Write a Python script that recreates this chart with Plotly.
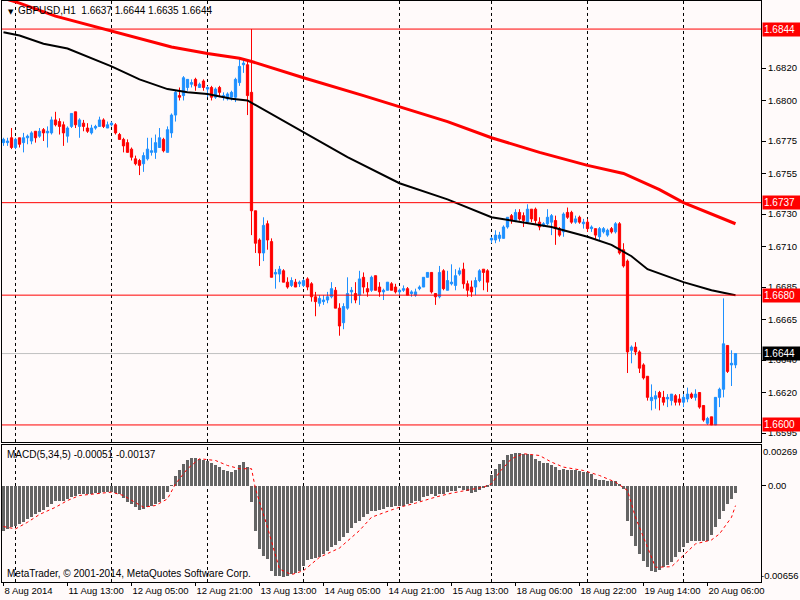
import pandas as pd
import plotly.graph_objects as go

# hourly bars on screen (MetaTrader skips the weekend)
bar_times = (list(pd.date_range('2014-08-08 21:00', '2014-08-08 23:00', freq='h'))
             + list(pd.date_range('2014-08-11 00:00', '2014-08-15 22:00', freq='h'))
             + list(pd.date_range('2014-08-18 00:00', '2014-08-20 13:00', freq='h')))

opens = [
    1.6774, 1.6774, 1.6777, 1.6771, 1.6777, 1.6774, 1.6777, 1.6775, 1.6781, 1.6778,
    1.6782, 1.6780, 1.6780, 1.6788, 1.6787, 1.6785, 1.6778, 1.6784, 1.6793, 1.6784,
    1.6786, 1.6783, 1.6780, 1.6783, 1.6784, 1.6788, 1.6783, 1.6785, 1.6785, 1.6779,
    1.6776, 1.6774, 1.6770, 1.6764, 1.6763, 1.6761, 1.6764, 1.6768, 1.6768, 1.6771,
    1.6776, 1.6768, 1.6780, 1.6791, 1.6803, 1.6803, 1.6808, 1.6810, 1.6813, 1.6808,
    1.6812, 1.6807, 1.6808, 1.6802, 1.6808, 1.6802, 1.6801, 1.6802, 1.6802, 1.6811,
    1.6822, 1.6822, 1.6805, 1.6732, 1.6714, 1.6706, 1.6724, 1.6713, 1.6693, 1.6693,
    1.6695, 1.6688, 1.6686, 1.6688, 1.6687, 1.6686, 1.6690, 1.6687, 1.6679, 1.6675,
    1.6676, 1.6677, 1.6679, 1.6683, 1.6672, 1.6663, 1.6672, 1.6682, 1.6681, 1.6680,
    1.6691, 1.6684, 1.6683, 1.6692, 1.6685, 1.6682, 1.6683, 1.6687, 1.6685, 1.6682,
    1.6683, 1.6684, 1.6681, 1.6680, 1.6684, 1.6685, 1.6691, 1.6694, 1.6681, 1.6679,
    1.6695, 1.6683, 1.6687, 1.6686, 1.6693, 1.6696, 1.6687, 1.6685, 1.6685, 1.6689,
    1.6696, 1.6695, 1.6714, 1.6714, 1.6715, 1.6715, 1.6722, 1.6729, 1.6726, 1.6731,
    1.6729, 1.6725, 1.6733, 1.6733, 1.6725, 1.6723, 1.6724, 1.6725, 1.6726, 1.6721,
    1.6719, 1.6731, 1.6731, 1.6725, 1.6728, 1.6724, 1.6725, 1.6721, 1.6721, 1.6716,
    1.6719, 1.6717, 1.6721, 1.6719, 1.6724, 1.6708, 1.6701, 1.6646, 1.6648, 1.6645,
    1.6637, 1.6630, 1.6615, 1.6616, 1.6620, 1.6617, 1.6616, 1.6615, 1.6618, 1.6616,
    1.6614, 1.6616, 1.6619, 1.6617, 1.6620, 1.6612, 1.6601, 1.6605, 1.6600, 1.6617,
    1.6622, 1.6649, 1.6637, 1.6637,
]
highs = [
    1.6777, 1.6777, 1.6783, 1.6777, 1.6777, 1.6780, 1.6779, 1.6781, 1.6781, 1.6783,
    1.6783, 1.6784, 1.6790, 1.6793, 1.6789, 1.6787, 1.6784, 1.6792, 1.6793, 1.6789,
    1.6788, 1.6786, 1.6785, 1.6785, 1.6790, 1.6789, 1.6787, 1.6787, 1.6786, 1.6780,
    1.6777, 1.6776, 1.6771, 1.6766, 1.6764, 1.6768, 1.6777, 1.6777, 1.6779, 1.6783,
    1.6777, 1.6784, 1.6792, 1.6806, 1.6808, 1.6815, 1.6813, 1.6813, 1.6814, 1.6811,
    1.6813, 1.6809, 1.6809, 1.6808, 1.6809, 1.6805, 1.6805, 1.6806, 1.6814, 1.6826,
    1.6826, 1.6825, 1.6844, 1.6732, 1.6715, 1.6728, 1.6726, 1.6715, 1.6696, 1.6698,
    1.6696, 1.6691, 1.6691, 1.6690, 1.6689, 1.6690, 1.6691, 1.6688, 1.6682, 1.6680,
    1.6680, 1.6682, 1.6688, 1.6685, 1.6675, 1.6675, 1.6691, 1.6685, 1.6688, 1.6695,
    1.6694, 1.6688, 1.6692, 1.6692, 1.6688, 1.6684, 1.6688, 1.6688, 1.6687, 1.6684,
    1.6686, 1.6685, 1.6683, 1.6684, 1.6686, 1.6691, 1.6694, 1.6694, 1.6681, 1.6698,
    1.6696, 1.6695, 1.6699, 1.6696, 1.6697, 1.6700, 1.6689, 1.6689, 1.6691, 1.6696,
    1.6696, 1.6696, 1.6716, 1.6720, 1.6719, 1.6723, 1.6728, 1.6730, 1.6733, 1.6733,
    1.6731, 1.6736, 1.6733, 1.6734, 1.6728, 1.6725, 1.6733, 1.6730, 1.6729, 1.6722,
    1.6731, 1.6734, 1.6732, 1.6729, 1.6729, 1.6727, 1.6727, 1.6723, 1.6721, 1.6722,
    1.6722, 1.6721, 1.6722, 1.6725, 1.6725, 1.6712, 1.6702, 1.6649, 1.6651, 1.6646,
    1.6638, 1.6630, 1.6625, 1.6621, 1.6621, 1.6621, 1.6619, 1.6619, 1.6619, 1.6619,
    1.6619, 1.6623, 1.6620, 1.6622, 1.6620, 1.6612, 1.6605, 1.6605, 1.6617, 1.6623,
    1.6678, 1.6649, 1.6646, 1.6644,
]
lows = [
    1.6772, 1.6772, 1.6770, 1.6770, 1.6771, 1.6768, 1.6773, 1.6773, 1.6774, 1.6777,
    1.6775, 1.6771, 1.6779, 1.6784, 1.6779, 1.6772, 1.6774, 1.6783, 1.6783, 1.6777,
    1.6781, 1.6780, 1.6779, 1.6782, 1.6784, 1.6783, 1.6783, 1.6784, 1.6779, 1.6776,
    1.6768, 1.6768, 1.6763, 1.6760, 1.6754, 1.6756, 1.6763, 1.6766, 1.6764, 1.6771,
    1.6768, 1.6768, 1.6777, 1.6787, 1.6800, 1.6800, 1.6806, 1.6808, 1.6806, 1.6808,
    1.6806, 1.6802, 1.6800, 1.6801, 1.6802, 1.6800, 1.6800, 1.6800, 1.6799, 1.6809,
    1.6817, 1.6791, 1.6717, 1.6706, 1.6698, 1.6701, 1.6708, 1.6691, 1.6684, 1.6688,
    1.6688, 1.6684, 1.6685, 1.6685, 1.6685, 1.6685, 1.6683, 1.6676, 1.6667, 1.6673,
    1.6674, 1.6675, 1.6678, 1.6672, 1.6655, 1.6659, 1.6671, 1.6675, 1.6675, 1.6674,
    1.6681, 1.6679, 1.6682, 1.6683, 1.6679, 1.6677, 1.6683, 1.6683, 1.6681, 1.6680,
    1.6682, 1.6680, 1.6679, 1.6679, 1.6683, 1.6685, 1.6691, 1.6681, 1.6674, 1.6678,
    1.6683, 1.6683, 1.6686, 1.6683, 1.6692, 1.6684, 1.6679, 1.6679, 1.6680, 1.6688,
    1.6683, 1.6682, 1.6712, 1.6712, 1.6713, 1.6715, 1.6721, 1.6724, 1.6725, 1.6726,
    1.6722, 1.6724, 1.6725, 1.6724, 1.6720, 1.6722, 1.6723, 1.6717, 1.6711, 1.6716,
    1.6716, 1.6727, 1.6724, 1.6724, 1.6724, 1.6721, 1.6719, 1.6719, 1.6714, 1.6714,
    1.6718, 1.6716, 1.6718, 1.6718, 1.6705, 1.6697, 1.6632, 1.6638, 1.6643, 1.6632,
    1.6628, 1.6615, 1.6609, 1.6610, 1.6609, 1.6612, 1.6611, 1.6612, 1.6612, 1.6612,
    1.6611, 1.6614, 1.6616, 1.6615, 1.6610, 1.6602, 1.6600, 1.6600, 1.6600, 1.6611,
    1.6617, 1.6632, 1.6624, 1.6635,
]
closes = [
    1.6776, 1.6775, 1.6771, 1.6776, 1.6773, 1.6777, 1.6778, 1.6780, 1.6777, 1.6781,
    1.6780, 1.6781, 1.6788, 1.6785, 1.6784, 1.6780, 1.6783, 1.6792, 1.6785, 1.6788,
    1.6784, 1.6781, 1.6783, 1.6784, 1.6788, 1.6784, 1.6785, 1.6786, 1.6780, 1.6776,
    1.6772, 1.6768, 1.6765, 1.6761, 1.6760, 1.6766, 1.6770, 1.6769, 1.6774, 1.6777,
    1.6769, 1.6782, 1.6791, 1.6805, 1.6802, 1.6814, 1.6813, 1.6811, 1.6809, 1.6810,
    1.6808, 1.6808, 1.6802, 1.6807, 1.6805, 1.6803, 1.6804, 1.6805, 1.6813, 1.6821,
    1.6823, 1.6803, 1.6732, 1.6712, 1.6706, 1.6723, 1.6714, 1.6691, 1.6694, 1.6696,
    1.6688, 1.6685, 1.6689, 1.6685, 1.6688, 1.6689, 1.6685, 1.6679, 1.6676, 1.6678,
    1.6677, 1.6679, 1.6684, 1.6672, 1.6661, 1.6673, 1.6681, 1.6683, 1.6677, 1.6690,
    1.6685, 1.6682, 1.6691, 1.6683, 1.6682, 1.6683, 1.6688, 1.6683, 1.6682, 1.6683,
    1.6684, 1.6680, 1.6682, 1.6682, 1.6685, 1.6691, 1.6694, 1.6682, 1.6679, 1.6694,
    1.6684, 1.6689, 1.6688, 1.6692, 1.6695, 1.6687, 1.6683, 1.6682, 1.6689, 1.6695,
    1.6694, 1.6688, 1.6715, 1.6717, 1.6717, 1.6722, 1.6728, 1.6726, 1.6731, 1.6727,
    1.6726, 1.6733, 1.6727, 1.6726, 1.6722, 1.6724, 1.6728, 1.6729, 1.6721, 1.6717,
    1.6730, 1.6728, 1.6725, 1.6727, 1.6725, 1.6725, 1.6721, 1.6722, 1.6717, 1.6721,
    1.6721, 1.6720, 1.6719, 1.6724, 1.6706, 1.6698, 1.6645, 1.6648, 1.6645, 1.6635,
    1.6629, 1.6617, 1.6617, 1.6618, 1.6617, 1.6614, 1.6617, 1.6619, 1.6614, 1.6614,
    1.6617, 1.6619, 1.6617, 1.6619, 1.6611, 1.6603, 1.6604, 1.6600, 1.6617, 1.6622,
    1.6650, 1.6633, 1.6638, 1.6644,
]

# moving averages, read at a few bars
ma_red_bars = [0, 4, 13, 27, 42, 51, 59, 62, 75, 90, 99, 111, 122, 134, 146, 155, 164, 170, 183]
ma_red = [1.6863, 1.6860, 1.6852, 1.6843, 1.6833, 1.6829, 1.6826, 1.6824, 1.6814, 1.6803,
          1.6796, 1.6787, 1.6777, 1.6768, 1.6760, 1.6755, 1.6745, 1.6737, 1.6724]
ma_black_bars = [0, 4, 10, 16, 27, 34, 41, 46, 51, 57, 61, 66, 75, 86, 99, 111, 122, 129,
                 137, 146, 152, 157, 161, 170, 177, 183]
ma_black = [1.6842, 1.6840, 1.6835, 1.6832, 1.6821, 1.6813, 1.6807, 1.6805, 1.6804, 1.6801,
            1.6800, 1.6793, 1.6780, 1.6765, 1.6749, 1.6739, 1.6728, 1.6725, 1.6722, 1.6716,
            1.6711, 1.6704, 1.6696, 1.6688, 1.6683, 1.6680]

macd_main = [
    -0.00311, -0.00295, -0.00279, -0.00272, -0.00261, -0.00245, -0.00227, -0.00211, -0.00197, -0.00182,
    -0.00166, -0.00148, -0.00125, -0.00107, -0.00102, -0.00102, -0.00091, -0.00079, -0.00068, -0.00061,
    -0.00061, -0.00057, -0.00057, -0.00052, -0.00050, -0.00045, -0.00045, -0.00045, -0.00052, -0.00061,
    -0.00084, -0.00114, -0.00125, -0.00143, -0.00166, -0.00159, -0.00148, -0.00136, -0.00125, -0.00114,
    -0.00091, -0.00045, -0.00002, 0.00068, 0.00107, 0.00148, 0.00175, 0.00188, 0.00188, 0.00182,
    0.00175, 0.00166, 0.00154, 0.00136, 0.00125, 0.00107, 0.00098, 0.00091, 0.00107, 0.00136,
    0.00159, 0.00125, -0.00109, -0.00306, -0.00431, -0.00477, -0.00499, -0.00579, -0.00613, -0.00613,
    -0.00620, -0.00613, -0.00602, -0.00597, -0.00579, -0.00545, -0.00506, -0.00499, -0.00493, -0.00484,
    -0.00465, -0.00443, -0.00415, -0.00402, -0.00375, -0.00352, -0.00325, -0.00288, -0.00257, -0.00238,
    -0.00216, -0.00193, -0.00175, -0.00170, -0.00166, -0.00159, -0.00148, -0.00143, -0.00136, -0.00136,
    -0.00136, -0.00129, -0.00120, -0.00107, -0.00102, -0.00079, -0.00068, -0.00061, -0.00068, -0.00057,
    -0.00057, -0.00045, -0.00034, -0.00034, -0.00016, -0.00030, -0.00034, -0.00052, -0.00045, -0.00030,
    -0.00016, -0.00007, 0.00073, 0.00114, 0.00143, 0.00175, 0.00204, 0.00216, 0.00222, 0.00222,
    0.00216, 0.00216, 0.00204, 0.00182, 0.00166, 0.00152, 0.00152, 0.00136, 0.00125, 0.00107,
    0.00114, 0.00107, 0.00107, 0.00102, 0.00098, 0.00091, 0.00091, 0.00079, 0.00045, 0.00039,
    0.00039, 0.00034, 0.00030, 0.00030, 0.00011, -0.00023, -0.00238, -0.00341, -0.00409, -0.00465,
    -0.00511, -0.00556, -0.00579, -0.00590, -0.00574, -0.00556, -0.00538, -0.00522, -0.00488, -0.00454,
    -0.00420, -0.00393, -0.00375, -0.00375, -0.00379, -0.00379, -0.00375, -0.00334, -0.00279, -0.00227,
    -0.00170, -0.00125, -0.00091, -0.00051,
]
signal_bars = [0, 3, 6, 9, 13, 16, 19, 23, 27, 30, 33, 35, 38, 41, 43, 46, 49, 53, 56, 59,
               62, 63, 66, 69, 72, 75, 79, 84, 89, 92, 97, 99, 103, 108, 112, 116, 120, 122,
               124, 127, 130, 134, 137, 140, 145, 149, 153, 156, 158, 161, 163, 167, 170, 173,
               177, 179, 182, 183]
signal = [-0.00279, -0.00295, -0.00250, -0.00197, -0.00148, -0.00102, -0.00068, -0.00057,
          -0.00045, -0.00068, -0.00114, -0.00148, -0.00136, -0.00091, 0.00011, 0.00114, 0.00182,
          0.00170, 0.00136, 0.00114, 0.00114, -0.00023, -0.00284, -0.00568, -0.00606, -0.00579,
          -0.00488, -0.00425, -0.00306, -0.00216, -0.00166, -0.00148, -0.00120, -0.00079,
          -0.00052, -0.00030, -0.00011, 0.00011, 0.00091, 0.00182, 0.00216, 0.00204, 0.00159,
          0.00125, 0.00102, 0.00068, 0.00023, -0.00034, -0.00216, -0.00420, -0.00556, -0.00552,
          -0.00477, -0.00397, -0.00370, -0.00329, -0.00216, -0.00137]

price_ticks = [1.6820, 1.6800, 1.6775, 1.6755, 1.6730, 1.6710, 1.6685, 1.6665, 1.6640, 1.6620, 1.6595]
level_lines = [1.6844, 1.6737, 1.6680, 1.6600]
last_price = 1.6644
macd_max, macd_min = 0.00269, -0.00656

bars = list(range(len(bar_times)))
label_bars = bars[::16]
label_text = ['8 Aug 2014'] + [f"{bar_times[i].day} {bar_times[i]:%b %H:%M}" for i in label_bars[1:]]
day_starts = [i for i in bars[1:] if bar_times[i].date() != bar_times[i - 1].date()]

BG = '#FFFAFA'
FONT = 'Liberation Sans'
FS = 9.5
# 759 px wide plot, 4 px per bar; offset so bar edges land on whole pixels
X_RANGE = [-0.375, -0.375 + 759 / 4]

fig = go.Figure()
fig.add_trace(go.Candlestick(
    x=bars, open=opens, high=highs, low=lows, close=closes,
    increasing=dict(line=dict(color='#1E90FF', width=1), fillcolor='#1E90FF'),
    decreasing=dict(line=dict(color='#FF0000', width=1), fillcolor='#FF0000'),
    whiskerwidth=0, showlegend=False, xaxis='x', yaxis='y'))
fig.add_trace(go.Scatter(x=ma_black_bars, y=ma_black, mode='lines', line=dict(color='black', width=2),
                         showlegend=False, xaxis='x', yaxis='y'))
fig.add_trace(go.Scatter(x=ma_red_bars, y=ma_red, mode='lines', line=dict(color='#FF0000', width=3),
                         showlegend=False, xaxis='x', yaxis='y'))
fig.add_trace(go.Bar(x=bars, y=macd_main, width=0.75, marker=dict(color='#646464', line=dict(width=0)),
                     showlegend=False, xaxis='x2', yaxis='y2'))
fig.add_trace(go.Scatter(x=signal_bars, y=signal, mode='lines',
                         line=dict(color='#FF0000', width=1, dash='dot'),
                         showlegend=False, xaxis='x2', yaxis='y2'))

shapes = []
for d in day_starts:
    for yref in ['y domain', 'y2 domain']:
        shapes.append(dict(type='line', xref='x', yref=yref, x0=d, x1=d, y0=0, y1=1, layer='below',
                           line=dict(color='black', width=1, dash='3px,3px')))
for lv in level_lines:
    shapes.append(dict(type='line', xref='x domain', yref='y', x0=0, x1=1, y0=lv, y1=lv,
                       line=dict(color='#FF0000', width=1)))
shapes.append(dict(type='line', xref='x domain', yref='y', x0=0, x1=1, y0=last_price, y1=last_price,
                   layer='below', line=dict(color='#C0C0C0', width=1)))

annotations = []
for lv in level_lines:
    annotations.append(dict(xref='paper', x=1, xanchor='left', xshift=1, yref='y', y=lv,
                            text=f'{lv:.4f}', showarrow=False, bgcolor='#FF0000', width=36,
                            align='left', borderpad=1, font=dict(family=FONT, size=10, color='white')))
annotations.append(dict(xref='paper', x=1, xanchor='left', xshift=1, yref='y', y=last_price,
                        text=f'{last_price:.4f}', showarrow=False, bgcolor='black', width=36,
                        align='left', borderpad=1, font=dict(family=FONT, size=10, color='white')))
annotations += [
    dict(xref='paper', x=0, xanchor='left', xshift=4, yref='paper', y=1, yanchor='top', yshift=-5,
         text='▼', showarrow=False, font=dict(family='DejaVu Sans', size=7, color='black')),
    dict(xref='paper', x=0, xanchor='left', xshift=14, yref='paper', y=1, yanchor='top', yshift=-2,
         text=f'GBPUSD,H1  {opens[-1]:.4f} {highs[-1]:.4f} {lows[-1]:.4f} {closes[-1]:.4f}',
         showarrow=False, font=dict(family=FONT, size=10, color='black')),
    dict(xref='paper', x=0, xanchor='left', xshift=3, yref='y2 domain', y=1, yanchor='top', yshift=-2,
         text=f'MACD(5,34,5) {macd_main[-1]:.5f} {signal[-1]:.5f}', showarrow=False,
         font=dict(family=FONT, size=10, color='black')),
    dict(xref='paper', x=0, xanchor='left', xshift=3, yref='y2 domain', y=0, yanchor='bottom', yshift=1,
         text='MetaTrader, © 2001-2014, MetaQuotes Software Corp.', showarrow=False,
         font=dict(family=FONT, size=10, color='black')),
    dict(xref='paper', x=1, xanchor='left', xshift=1, yref='y2 domain', y=1, yanchor='top',
         text=f'{macd_max:.5f}', showarrow=False, borderpad=0, font=dict(family=FONT, size=FS, color='black')),
    dict(xref='paper', x=1, xanchor='left', xshift=-1, yref='y2 domain', y=0, yanchor='bottom',
         text=f'{macd_min:.5f}', showarrow=False, borderpad=0, font=dict(family=FONT, size=FS, color='black')),
]

axis_common = dict(showgrid=False, zeroline=False, showline=True, mirror=True, linecolor='black',
                   linewidth=1, tickcolor='black', tickfont=dict(family=FONT, size=FS, color='black'))

fig.update_layout(
    width=800, height=600,
    margin=dict(l=2, r=39, t=1, b=18),
    paper_bgcolor=BG, plot_bgcolor=BG,
    showlegend=False, bargap=0, boxgap=0.2,
    xaxis=dict(domain=[0, 1], anchor='y', range=X_RANGE, showticklabels=False, ticks='',
               rangeslider=dict(visible=False), **axis_common),
    yaxis=dict(domain=[0.241, 1], anchor='x', side='right', range=[1.65895, 1.68613],
               tickvals=price_ticks, ticktext=[f'{v:.4f}' for v in price_ticks],
               ticks='outside', ticklen=4, **axis_common),
    xaxis2=dict(domain=[0, 1], anchor='y2', matches='x', range=X_RANGE,
                tickvals=label_bars, ticktext=label_text, ticks='outside', ticklen=3, tickangle=0,
                ticklabelposition='outside right', **axis_common),
    yaxis2=dict(domain=[0, 0.2358], anchor='x2', side='right', range=[macd_min, 0.002753],
                tickvals=[0], ticktext=['0.00'], ticks='outside', ticklen=4, **axis_common),
    shapes=shapes, annotations=annotations,
)

# the page body has a default 8px margin; drop it so the chart fills the window
fig.write_html('out.html', config={'displayModeBar': False},
               post_script="document.body.style.margin='0';document.body.style.overflow='hidden';")
